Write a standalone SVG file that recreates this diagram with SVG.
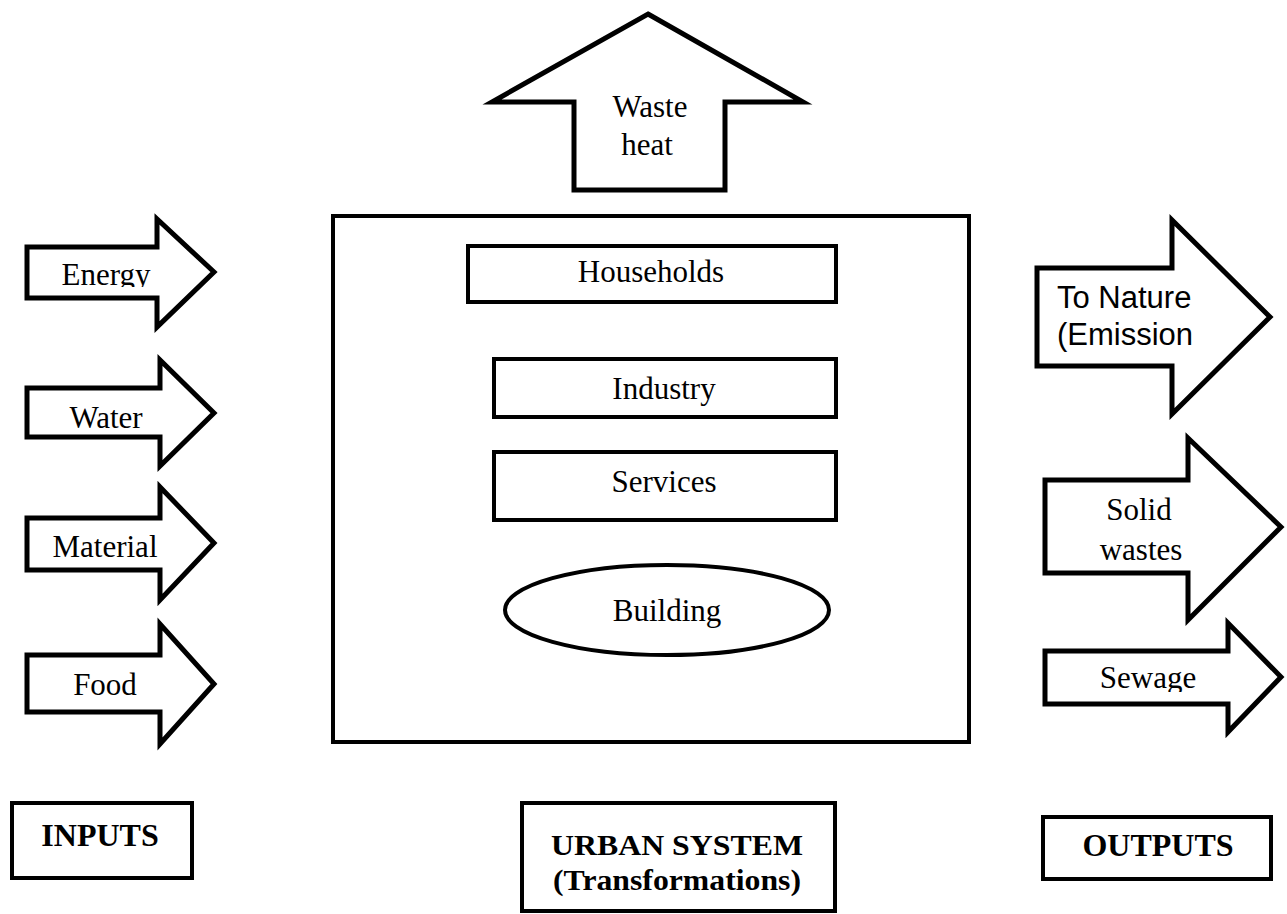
<svg xmlns="http://www.w3.org/2000/svg" width="1287" height="914" viewBox="0 0 1287 914">
<style>
.s{fill:#fff;stroke:#000;stroke-width:5;stroke-linejoin:miter}
.b{fill:#fff;stroke:#000;stroke-width:4}
.t{font-family:"Liberation Serif","Times New Roman",serif;font-size:31px;fill:#000;text-anchor:middle}
.a{font-family:"Liberation Sans",Arial,sans-serif;font-size:31px;fill:#000}
.bd{font-family:"Liberation Serif","Times New Roman",serif;font-size:32px;font-weight:bold;fill:#000;text-anchor:middle}
.bs{font-size:30px}
</style>
<defs>
<clipPath id="clipEnergy"><rect x="30" y="240" width="125" height="47"/></clipPath>
<clipPath id="clipSewage"><rect x="1048" y="645" width="178" height="47"/></clipPath>
</defs>
<g id="waste-heat">
<path class="s" d="M648,14 L803,102 H725 V190 H574 V102 H492 Z"/>
<text class="t" x="650" y="117">Waste</text>
<text class="t" x="647" y="155">heat</text>
</g>
<g id="energy">
<path class="s" d="M27,247 H157 V219 L214,272 L157,327 V298 H27 Z"/>
<text class="t" x="106" y="285" clip-path="url(#clipEnergy)">Energy</text>
</g>
<g id="water">
<path class="s" d="M27,388 H160 V360 L214,413 L160,466 V437 H27 Z"/>
<text class="t" x="106" y="428">Water</text>
</g>
<g id="material">
<path class="s" d="M27,518 H160 V487 L214,543 L160,600 V570 H27 Z"/>
<text class="t" x="105" y="557">Material</text>
</g>
<g id="food">
<path class="s" d="M27,655 H160 V624 L214,684 L160,744 V712 H27 Z"/>
<text class="t" x="105" y="695">Food</text>
</g>
<g id="urban-system">
<rect class="b" x="333" y="216" width="636" height="526"/>
</g>
<g id="households">
<rect class="b" x="468" y="246" width="368" height="56"/>
<text class="t" x="651" y="282">Households</text>
</g>
<g id="industry">
<rect class="b" x="494" y="359" width="342" height="58"/>
<text class="t" x="664" y="399">Industry</text>
</g>
<g id="services">
<rect class="b" x="494" y="452" width="342" height="68"/>
<text class="t" x="664" y="492">Services</text>
</g>
<g id="building">
<ellipse class="b" cx="667" cy="610" rx="162" ry="45"/>
<text class="t" x="667" y="621">Building</text>
</g>
<g id="to-nature">
<path class="s" d="M1037,268 H1172 V220 L1270,317 L1172,414 V366 H1037 Z"/>
<text class="a" x="1057" y="308">To Nature</text>
<text class="a" x="1057" y="345">(Emission</text>
</g>
<g id="solid-wastes">
<path class="s" d="M1045,480 H1188 V438 L1281,527 L1188,620 V573 H1045 Z"/>
<text class="t" x="1139" y="520">Solid</text>
<text class="t" x="1141" y="560">wastes</text>
</g>
<g id="sewage">
<path class="s" d="M1045,651 H1228 V623 L1281,677 L1228,732 V704 H1045 Z"/>
<text class="t" x="1148" y="688" clip-path="url(#clipSewage)">Sewage</text>
</g>
<g id="inputs">
<rect class="b" x="12" y="803" width="180" height="75"/>
<text class="bd" x="100" y="846">INPUTS</text>
</g>
<g id="urban-label">
<rect class="b" x="522" y="803" width="313" height="108"/>
<text class="bd bs" x="677" y="855" textLength="252" lengthAdjust="spacingAndGlyphs">URBAN SYSTEM</text>
<text class="bd bs" x="677" y="890" textLength="248" lengthAdjust="spacingAndGlyphs">(Transformations)</text>
</g>
<g id="outputs">
<rect class="b" x="1043" y="817" width="228" height="62"/>
<text class="bd" x="1158" y="856">OUTPUTS</text>
</g>
<g id="connectors"></g>
</svg>
